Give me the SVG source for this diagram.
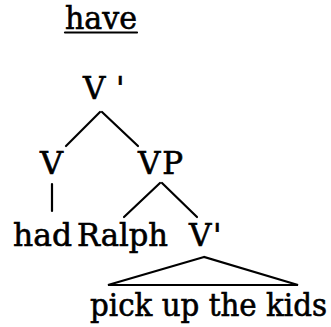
<svg xmlns="http://www.w3.org/2000/svg" width="331" height="327" viewBox="0 0 331 327">
<style>
text{font-family:"DejaVu Serif","Liberation Serif",serif;font-size:31px;fill:#000;stroke:#000;stroke-width:0.6}
.l{stroke:#000;stroke-width:2.2;fill:none;stroke-linecap:round}
</style>
<rect width="331" height="327" fill="#fff"/>
<g id="title"><text x="65" y="29" textLength="72" lengthAdjust="spacingAndGlyphs">have</text><line class="l" x1="65" y1="32.5" x2="137" y2="32.5"/></g>
<g id="n-vbar-top"><text x="83" y="99">V<tspan x="116">'</tspan></text></g>
<g id="n-v"><text x="40" y="174" textLength="23" lengthAdjust="spacingAndGlyphs">V</text></g>
<g id="n-vp"><text x="138" y="174" textLength="45" lengthAdjust="spacing">VP</text></g>
<g id="n-had"><text x="13" y="246" textLength="59" lengthAdjust="spacingAndGlyphs">had</text></g>
<g id="n-ralph"><text x="77" y="246" textLength="91" lengthAdjust="spacingAndGlyphs">Ralph</text></g>
<g id="n-vbar"><text x="189" y="246">V<tspan x="213">'</tspan></text></g>
<g id="n-pick"><text x="90" y="316" textLength="237" lengthAdjust="spacingAndGlyphs">pick up the kids</text></g>
<g id="connectors">
<line class="l" x1="100" y1="112" x2="66" y2="146"/>
<line class="l" x1="102" y1="112" x2="138" y2="146"/>
<line class="l" x1="52" y1="184" x2="52" y2="211"/>
<line class="l" x1="160" y1="183" x2="124" y2="217"/>
<line class="l" x1="162" y1="183" x2="197" y2="217"/>
<polygon class="l" points="204,257 108,285 298,285"/>
</g>
</svg>
